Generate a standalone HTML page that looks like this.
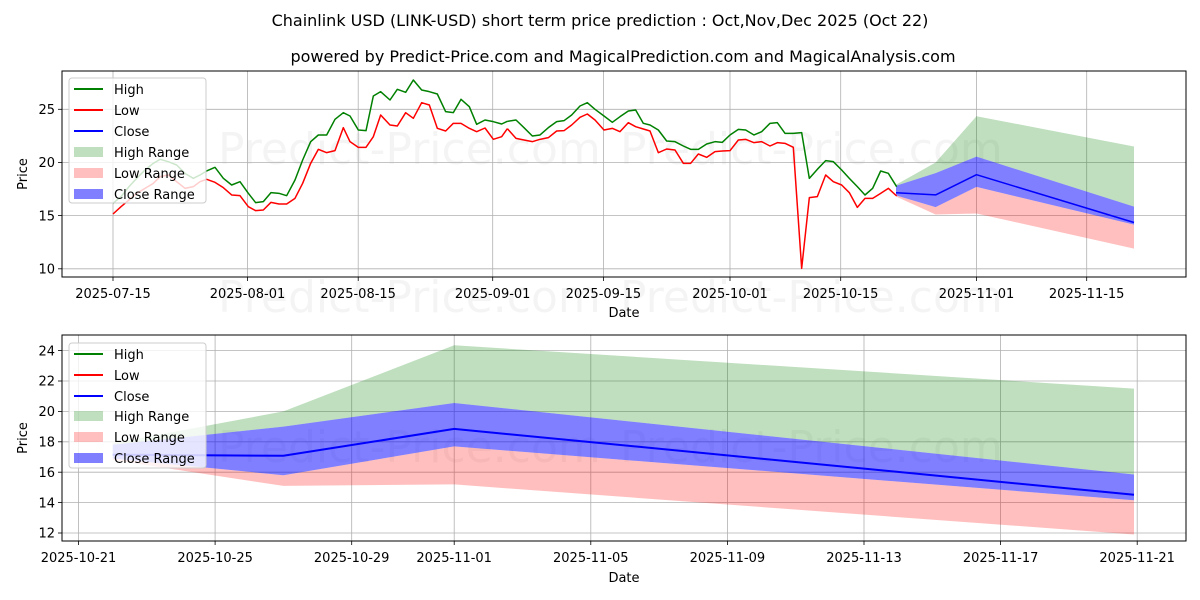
<!DOCTYPE html>
<html><head><meta charset="utf-8"><style>
html,body{margin:0;padding:0;background:#fff;}
svg{display:block;font-family:"DejaVu Sans","Liberation Sans",sans-serif;}
</style></head><body>
<svg width="1200" height="600" viewBox="0 0 1200 600" xmlns="http://www.w3.org/2000/svg">
<rect width="1200" height="600" fill="#fff"/>
<text x="600" y="26" font-size="16" text-anchor="middle">Chainlink USD (LINK-USD) short term price prediction : Oct,Nov,Dec 2025 (Oct 22)</text>
<text x="623" y="62" font-size="16" text-anchor="middle">powered by Predict-Price.com and MagicalPrediction.com and MagicalAnalysis.com</text>

<g fill="#000" fill-opacity="0.045" font-size="44">
<text x="218" y="164">Predict-Price.com</text>
<text x="620" y="164">Predict-Price.com</text>
<text x="218" y="312">Predict-Price.com</text>
<text x="620" y="312">Predict-Price.com</text>
<text x="218" y="462">Predict-Price.com</text>
<text x="620" y="462">Predict-Price.com</text>
</g>

<!-- TOP CHART -->
<g stroke="#b0b0b0" stroke-width="0.8">
<line x1="113" y1="71" x2="113" y2="277"/><line x1="247.5" y1="71" x2="247.5" y2="277"/>
<line x1="358.2" y1="71" x2="358.2" y2="277"/><line x1="492.7" y1="71" x2="492.7" y2="277"/>
<line x1="603.4" y1="71" x2="603.4" y2="277"/><line x1="730" y1="71" x2="730" y2="277"/>
<line x1="840.7" y1="71" x2="840.7" y2="277"/><line x1="976.5" y1="71" x2="976.5" y2="277"/>
<line x1="1086.7" y1="71" x2="1086.7" y2="277"/>
<line x1="62" y1="268.8" x2="1186" y2="268.8"/><line x1="62" y1="215.6" x2="1186" y2="215.6"/>
<line x1="62" y1="162.5" x2="1186" y2="162.5"/><line x1="62" y1="109.3" x2="1186" y2="109.3"/>
</g>
<polygon fill="rgb(0,128,0)" fill-opacity="0.25" points="896,184.8 935.6,162.5 976.5,116.2 1134,146.5 1134,206.6 976.5,156.6 935.6,173.1 896,185.8"/>
<polygon fill="rgb(255,0,0)" fill-opacity="0.25" points="896,195.4 935.6,207.1 976.5,186.9 1134,224.6 1134,248.6 976.5,213.5 935.6,214.5 896,196.5"/>
<polygon fill="rgb(0,0,255)" fill-opacity="0.5" points="896,185.8 935.6,173.1 976.5,156.6 1134,206.6 1134,224.6 976.5,186.9 935.6,207.1 896,195.4"/>
<g fill="none" stroke-width="1.5" stroke-linejoin="round">
<g transform="translate(60,60) scale(0.33333)">
<polyline vector-effect="non-scaling-stroke" stroke="#008000" points="159,430 183,410 207,380 230,355 255,330 280,310 300,298 325,305 350,315 375,340 400,355 420,345 440,333 465,322 490,355 515,375 540,365 565,400 587,428 610,425 633,398 657,400 680,407 705,360 728,300 752,245 775,225 800,225 825,178 850,158 870,168 895,210 918,212 940,108 962,95 990,120 1012,88 1037,97 1060,60 1085,90 1108,95 1132,102 1157,155 1180,158 1203,118 1228,140 1250,193 1275,180 1300,185 1325,192 1342,184"/>
<polyline vector-effect="non-scaling-stroke" stroke="#ff0000" points="159,462 183,440 207,420 230,400 255,385 280,370 300,350 325,345 350,365 375,385 400,380 420,365 440,358 465,367 490,383 515,405 540,407 565,440 587,452 610,450 633,427 657,432 680,432 705,415 728,370 752,310 775,268 800,278 825,272 850,203 870,245 895,262 918,262 940,230 962,165 990,195 1012,198 1037,158 1060,175 1085,128 1108,135 1132,205 1157,213 1180,190 1203,190 1228,205 1250,215 1275,204 1300,238 1325,230 1342,206"/>
</g>
<g transform="translate(480,60) scale(0.33333)">
<polyline vector-effect="non-scaling-stroke" stroke="#008000" points="82,184 108,180 132,203 157,228 180,225 205,203 230,185 252,182 275,165 300,138 322,128 345,148 372,168 397,187 420,170 445,153 467,150 490,190 510,195 535,210 560,243 585,245 610,258 632,268 655,268 680,252 705,245 727,247 750,225 775,208 797,210 822,225 845,215 870,190 892,188 915,220 940,220 965,218 988,355 1012,328 1037,302 1060,305 1085,330 1108,355 1132,380 1155,405 1178,385 1202,333 1225,340 1250,380"/>
<polyline vector-effect="non-scaling-stroke" stroke="#ff0000" points="82,206 108,235 132,240 157,245 180,238 205,233 230,213 252,212 275,195 300,172 322,162 345,180 372,210 397,205 420,215 445,188 467,200 490,207 510,213 535,278 560,267 585,270 610,310 632,310 655,282 680,292 705,275 727,273 750,272 775,240 797,238 822,248 845,245 870,258 892,248 915,250 940,262 965,625 988,413 1012,410 1037,345 1060,365 1085,375 1108,398 1132,442 1155,415 1178,415 1202,400 1225,385 1250,408"/>
</g>
<polyline stroke="#0000ff" points="896,192.7 935.6,194.9 976.5,174.7 1134,222.5"/>
</g>
<rect x="62" y="71" width="1124" height="206" fill="none" stroke="#000" stroke-width="1"/>
<g stroke="#000" stroke-width="0.8">
<line x1="113" y1="277" x2="113" y2="281"/><line x1="247.5" y1="277" x2="247.5" y2="281"/>
<line x1="358.2" y1="277" x2="358.2" y2="281"/><line x1="492.7" y1="277" x2="492.7" y2="281"/>
<line x1="603.4" y1="277" x2="603.4" y2="281"/><line x1="730" y1="277" x2="730" y2="281"/>
<line x1="840.7" y1="277" x2="840.7" y2="281"/><line x1="976.5" y1="277" x2="976.5" y2="281"/>
<line x1="1086.7" y1="277" x2="1086.7" y2="281"/>
<line x1="58" y1="268.8" x2="62" y2="268.8"/><line x1="58" y1="215.6" x2="62" y2="215.6"/>
<line x1="58" y1="162.5" x2="62" y2="162.5"/><line x1="58" y1="109.3" x2="62" y2="109.3"/>
</g>
<g font-size="13" text-anchor="middle">
<text x="113" y="298">2025-07-15</text><text x="247.5" y="298">2025-08-01</text>
<text x="358.2" y="298">2025-08-15</text><text x="492.7" y="298">2025-09-01</text>
<text x="603.4" y="298">2025-09-15</text><text x="730" y="298">2025-10-01</text>
<text x="840.7" y="298">2025-10-15</text><text x="976.5" y="298">2025-11-01</text>
<text x="1086.7" y="298">2025-11-15</text>
<text x="624" y="317">Date</text>
</g>
<g font-size="13" text-anchor="end">
<text x="55" y="273.5">10</text><text x="55" y="220.3">15</text><text x="55" y="167.2">20</text><text x="55" y="114">25</text>
</g>
<text font-size="13" text-anchor="middle" transform="translate(27,174) rotate(-90)">Price</text>

<rect x="69" y="78" width="137" height="125" rx="3" fill="#fff" fill-opacity="0.8" stroke="#ccc"/>
<g stroke-width="2"><line x1="74" y1="89" x2="103" y2="89" stroke="#008000"/><line x1="74" y1="110" x2="103" y2="110" stroke="#ff0000"/><line x1="74" y1="131" x2="103" y2="131" stroke="#0000ff"/></g>
<rect x="74" y="147" width="29" height="10" fill="rgb(0,128,0)" fill-opacity="0.25"/>
<rect x="74" y="168" width="29" height="10" fill="rgb(255,0,0)" fill-opacity="0.25"/>
<rect x="74" y="189" width="29" height="10" fill="rgb(0,0,255)" fill-opacity="0.5"/>
<g font-size="13"><text x="114" y="94">High</text><text x="114" y="115">Low</text><text x="114" y="136">Close</text><text x="114" y="157">High Range</text><text x="114" y="178">Low Range</text><text x="114" y="199">Close Range</text></g>

<!-- BOTTOM CHART -->
<g stroke="#b0b0b0" stroke-width="0.8">
<line x1="78.5" y1="335" x2="78.5" y2="541"/><line x1="215.1" y1="335" x2="215.1" y2="541"/>
<line x1="351.7" y1="335" x2="351.7" y2="541"/><line x1="454.2" y1="335" x2="454.2" y2="541"/>
<line x1="590.8" y1="335" x2="590.8" y2="541"/><line x1="727.4" y1="335" x2="727.4" y2="541"/>
<line x1="864" y1="335" x2="864" y2="541"/><line x1="1000.6" y1="335" x2="1000.6" y2="541"/>
<line x1="1137.2" y1="335" x2="1137.2" y2="541"/>
<line x1="62" y1="350.6" x2="1186" y2="350.6"/><line x1="62" y1="381" x2="1186" y2="381"/>
<line x1="62" y1="411.4" x2="1186" y2="411.4"/><line x1="62" y1="441.8" x2="1186" y2="441.8"/>
<line x1="62" y1="472.2" x2="1186" y2="472.2"/><line x1="62" y1="502.6" x2="1186" y2="502.6"/>
<line x1="62" y1="533" x2="1186" y2="533"/>
</g>
<polygon fill="rgb(0,128,0)" fill-opacity="0.25" points="112.7,443.3 283.4,411.4 454.2,345.3 1134,388.6 1134,474.5 454.2,403 283.4,426.6 112.7,444.8"/>
<polygon fill="rgb(255,0,0)" fill-opacity="0.25" points="112.7,458.5 283.4,475.2 454.2,446.4 1134,500.3 1134,534.5 454.2,484.4 283.4,485.9 112.7,460"/>
<polygon fill="rgb(0,0,255)" fill-opacity="0.5" points="112.7,444.8 283.4,426.6 454.2,403 1134,474.5 1134,500.3 454.2,446.4 283.4,475.2 112.7,458.5"/>
<polyline fill="none" stroke="#0000ff" stroke-width="2" points="112.7,454.7 283.4,455.8 454.2,428.9 1134,494.8"/>
<rect x="62" y="335" width="1124" height="206" fill="none" stroke="#000" stroke-width="1"/>
<g stroke="#000" stroke-width="0.8">
<line x1="78.5" y1="541" x2="78.5" y2="545"/><line x1="215.1" y1="541" x2="215.1" y2="545"/>
<line x1="351.7" y1="541" x2="351.7" y2="545"/><line x1="454.2" y1="541" x2="454.2" y2="545"/>
<line x1="590.8" y1="541" x2="590.8" y2="545"/><line x1="727.4" y1="541" x2="727.4" y2="545"/>
<line x1="864" y1="541" x2="864" y2="545"/><line x1="1000.6" y1="541" x2="1000.6" y2="545"/>
<line x1="1137.2" y1="541" x2="1137.2" y2="545"/>
<line x1="58" y1="350.6" x2="62" y2="350.6"/><line x1="58" y1="381" x2="62" y2="381"/>
<line x1="58" y1="411.4" x2="62" y2="411.4"/><line x1="58" y1="441.8" x2="62" y2="441.8"/>
<line x1="58" y1="472.2" x2="62" y2="472.2"/><line x1="58" y1="502.6" x2="62" y2="502.6"/>
<line x1="58" y1="533" x2="62" y2="533"/>
</g>
<g font-size="13" text-anchor="middle">
<text x="78.5" y="562">2025-10-21</text><text x="215.1" y="562">2025-10-25</text>
<text x="351.7" y="562">2025-10-29</text><text x="454.2" y="562">2025-11-01</text>
<text x="590.8" y="562">2025-11-05</text><text x="727.4" y="562">2025-11-09</text>
<text x="864" y="562">2025-11-13</text><text x="1000.6" y="562">2025-11-17</text>
<text x="1137.2" y="562">2025-11-21</text>
<text x="624" y="582">Date</text>
</g>
<g font-size="13" text-anchor="end">
<text x="55" y="355.3">24</text><text x="55" y="385.7">22</text><text x="55" y="416.1">20</text><text x="55" y="446.5">18</text><text x="55" y="476.9">16</text><text x="55" y="507.3">14</text><text x="55" y="537.7">12</text>
</g>
<text font-size="13" text-anchor="middle" transform="translate(27,438) rotate(-90)">Price</text>

<rect x="69" y="343" width="137" height="125" rx="3" fill="#fff" fill-opacity="0.8" stroke="#ccc"/>
<g stroke-width="2"><line x1="74" y1="354" x2="103" y2="354" stroke="#008000"/><line x1="74" y1="375" x2="103" y2="375" stroke="#ff0000"/><line x1="74" y1="396" x2="103" y2="396" stroke="#0000ff"/></g>
<rect x="74" y="411" width="29" height="10" fill="rgb(0,128,0)" fill-opacity="0.25"/>
<rect x="74" y="432" width="29" height="10" fill="rgb(255,0,0)" fill-opacity="0.25"/>
<rect x="74" y="453" width="29" height="10" fill="rgb(0,0,255)" fill-opacity="0.5"/>
<g font-size="13"><text x="114" y="359">High</text><text x="114" y="380">Low</text><text x="114" y="401">Close</text><text x="114" y="421">High Range</text><text x="114" y="442">Low Range</text><text x="114" y="463">Close Range</text></g>
</svg>
</body></html>
